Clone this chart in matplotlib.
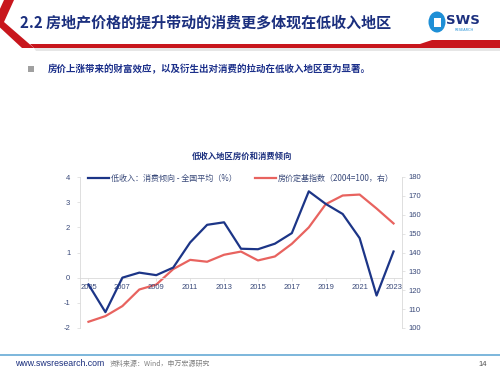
import matplotlib
matplotlib.use("Agg")
import matplotlib.pyplot as plt
from matplotlib.patches import Polygon, Circle, Rectangle, Ellipse
import numpy as np

plt.rcParams['font.family'] = ['Noto Sans CJK SC', 'DejaVu Sans']
plt.rcParams['axes.unicode_minus'] = False

years = list(range(2005, 2024))
consumption_diff = [-0.27, -1.37, 0.0, 0.2, 0.1, 0.4, 1.4, 2.1, 2.2, 1.15, 1.13,
                    1.35, 1.77, 3.43, 2.93, 2.53, 1.57, -0.71, 1.04]
house_index = [103.3, 106.3, 111.6, 120.4, 123.0, 131.2, 136.1, 135.1, 138.8, 140.5, 135.8,
               137.9, 144.6, 153.3, 165.6, 170.2, 170.7, 163.3, 155.4]
xtick_years = [2005, 2007, 2009, 2011, 2013, 2015, 2017, 2019, 2021, 2023]
left_ticks = [-2, -1, 0, 1, 2, 3, 4]
right_ticks = [100, 110, 120, 130, 140, 150, 160, 170, 180]

title = "2.2 房地产价格的提升带动的消费更多体现在低收入地区"
subtitle = "房价上涨带来的财富效应，以及衍生出对消费的拉动在低收入地区更为显著。"
chart_title = "低收入地区房价和消费倾向"
label_blue = "低收入：消费倾向 - 全国平均（%）"
label_red = "房价定基指数（2004=100，右）"
footer_url = "www.swsresearch.com"
footer_src = "资料来源：Wind，申万宏源研究"
page_no = "14"

BLUE = "#1c3587"
RED = "#e8635f"
TXT = "#3a4a7a"
GRID = "#d9d9d9"

W, H = 500, 373
fig = plt.figure(figsize=(5.0, 3.73), dpi=100)
fig.patch.set_facecolor("white")

def P(x, y):
    return (x / W, 1 - y / H)

# header decoration
fig.add_artist(Polygon([P(4, 0), P(14, 0), P(4, 22), P(34, 48), P(22, 48), P(-6, 22)],
                       closed=True, transform=fig.transFigure, facecolor="#c8161d", edgecolor="none"))
fig.add_artist(Polygon([P(30, 44), P(420, 44), P(432, 40), P(500, 40), P(500, 48), P(34, 48)],
                       closed=True, transform=fig.transFigure, facecolor="#c8161d", edgecolor="none"))
fig.add_artist(Polygon([P(34, 48), P(500, 48), P(500, 51), P(36, 51)],
                       closed=True, transform=fig.transFigure, facecolor="#e6e6e6", edgecolor="none"))
fig.text(20 / W, 1 - 22 / H, title, fontsize=10.8, color="#1b2f7e", fontweight="bold",
         va="center", ha="left")
# logo
fig.add_artist(Ellipse(P(437, 22), 17 / W, 21 / H, transform=fig.transFigure,
                       facecolor="#1e8fd6", edgecolor="none"))
fig.add_artist(Rectangle(P(434, 27), 7 / W, 9 / H, transform=fig.transFigure,
                         facecolor="white", edgecolor="none"))
fig.text(446 / W, 1 - 21 / H, "SWS", fontsize=9.5, fontweight="bold", color="#1b2f7e",
         family=["DejaVu Sans"], va="center", ha="left")
fig.text(455 / W, 1 - 30 / H, "RESEARCH", fontsize=2.5, color="#1e8fd6",
         family=["DejaVu Sans"], va="center", ha="left")

# subtitle
fig.add_artist(Rectangle(P(28, 72), 6 / W, 6 / H, transform=fig.transFigure,
                         facecolor="#a0a0a0", edgecolor="none"))
fig.text(48 / W, 1 - 69 / H, subtitle, fontsize=6.8, color="#1b2f8a", fontweight="bold",
         va="center", ha="left")

# chart title
fig.text(242 / W, 1 - 156 / H, chart_title, fontsize=6, color="#1b2f7e", fontweight="bold",
         va="center", ha="center")

# footer
fig.add_artist(Rectangle(P(0, 356), 1.0, 2 / H, transform=fig.transFigure,
                         facecolor="#7fb8dc", edgecolor="none"))
fig.text(15 / W, 1 - 364 / H, footer_url, fontsize=6.3, color="#1b2f7e",
         family=["Liberation Sans"], va="center", ha="left")
fig.text(110 / W, 1 - 364 / H, footer_src, fontsize=5, color="#808080",
         va="center", ha="left")
fig.text(483 / W, 1 - 364 / H, page_no, fontsize=5.5, color="#505050",
         family=["Liberation Sans"], va="center", ha="center")

# main axes
ax = fig.add_axes([80 / W, 1 - 328 / H, (402 - 80) / W, (328 - 177) / H])
ax2 = ax.twinx()
l1, = ax.plot(years, consumption_diff, color=BLUE, lw=1.6, label=label_blue, zorder=3)
l2, = ax2.plot(years, house_index, color=RED, lw=1.6, label=label_red, zorder=2)
ax.set_zorder(ax2.get_zorder() + 1)
ax.patch.set_visible(False)

ax.set_xlim(2004.5, 2023.5)
ax.set_ylim(-2, 4)
ax2.set_ylim(100, 180)
ax.set_yticks(left_ticks)
ax2.set_yticks(right_ticks)
ax.set_xticks(xtick_years)
ax.set_xticklabels([str(y) for y in xtick_years])

for a in (ax, ax2):
    for s in a.spines.values():
        s.set_visible(False)
ax.spines['left'].set_visible(True)
ax.spines['left'].set_color(GRID)
ax.spines['left'].set_linewidth(0.6)
ax2.spines['right'].set_visible(True)
ax2.spines['right'].set_color(GRID)
ax2.spines['right'].set_linewidth(0.6)
ax.spines['bottom'].set_visible(True)
ax.spines['bottom'].set_position(('data', 0))
ax.spines['bottom'].set_color(GRID)
ax.spines['bottom'].set_linewidth(0.6)
ax.spines['bottom'].set_zorder(1)

ax.tick_params(axis='y', labelsize=5.5, colors=TXT, length=2, width=0.5, pad=5,
               color=GRID)
ax2.tick_params(axis='y', labelsize=5.5, colors=TXT, length=2, width=0.5, pad=3,
                color=GRID)
ax.tick_params(axis='x', labelsize=5.5, colors=TXT, length=2.5, width=0.5, pad=2,
               color=GRID, direction="out")
for lab in ax.get_xticklabels() + ax.get_yticklabels() + ax2.get_yticklabels():
    lab.set_family(["Liberation Sans"])

ax.legend([l1, l2], [label_blue, label_red], loc="upper center", ncol=2, frameon=False,
          fontsize=5.8, labelcolor=TXT, bbox_to_anchor=(0.5, 1.04), handlelength=2.6,
          handletextpad=0.2, columnspacing=2.3, borderaxespad=0)

fig.savefig("out.png", dpi=100, facecolor="white")
